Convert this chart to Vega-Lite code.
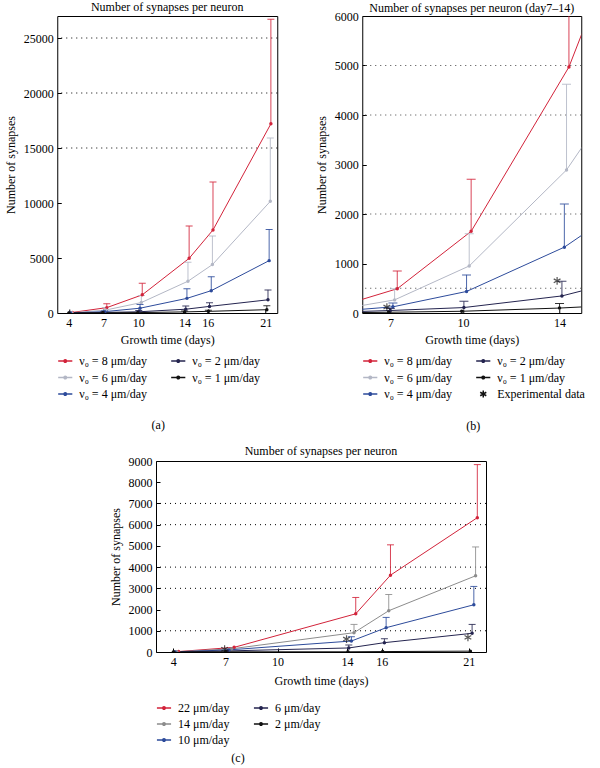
{
  "$schema": "https://vega.github.io/schema/vega-lite/v6.json",
  "padding": {"left": 3, "top": 0, "right": 0, "bottom": 0},
  "background": "white",
  "datasets": {
    "model": [
      {"s": "ν₀ = 8 μm/day", "d": 4.3, "v": 50},
      {"s": "ν₀ = 8 μm/day", "d": 7.28, "v": 490, "e": 850},
      {"s": "ν₀ = 8 μm/day", "d": 10.34, "v": 1650, "e": 2700},
      {"s": "ν₀ = 8 μm/day", "d": 14.39, "v": 4970, "e": 7900},
      {"s": "ν₀ = 8 μm/day", "d": 16.45, "v": 7550, "e": 11900},
      {"s": "ν₀ = 8 μm/day", "d": 21.45, "v": 17200, "e": 26700},
      {"s": "ν₀ = 6 μm/day", "d": 4.25, "v": 20},
      {"s": "ν₀ = 6 μm/day", "d": 7.17, "v": 265, "e": 490},
      {"s": "ν₀ = 6 μm/day", "d": 10.26, "v": 950, "e": 1600},
      {"s": "ν₀ = 6 μm/day", "d": 14.29, "v": 2890, "e": 4620},
      {"s": "ν₀ = 6 μm/day", "d": 16.4, "v": 4400, "e": 7000},
      {"s": "ν₀ = 6 μm/day", "d": 21.4, "v": 10150, "e": 15900},
      {"s": "ν₀ = 4 μm/day", "d": 4.15, "v": 10},
      {"s": "ν₀ = 4 μm/day", "d": 7.1, "v": 125, "e": 200},
      {"s": "ν₀ = 4 μm/day", "d": 10.15, "v": 435, "e": 770},
      {"s": "ν₀ = 4 μm/day", "d": 14.2, "v": 1330, "e": 2200},
      {"s": "ν₀ = 4 μm/day", "d": 16.3, "v": 2030, "e": 3300},
      {"s": "ν₀ = 4 μm/day", "d": 21.3, "v": 4760, "e": 7600},
      {"s": "ν₀ = 2 μm/day", "d": 4.05, "v": 5},
      {"s": "ν₀ = 2 μm/day", "d": 6.99, "v": 50, "e": 90},
      {"s": "ν₀ = 2 μm/day", "d": 10.04, "v": 110, "e": 235},
      {"s": "ν₀ = 2 μm/day", "d": 14.1, "v": 345, "e": 640},
      {"s": "ν₀ = 2 μm/day", "d": 16.15, "v": 600, "e": 930},
      {"s": "ν₀ = 2 μm/day", "d": 21.2, "v": 1200, "e": 2100},
      {"s": "ν₀ = 1 μm/day", "d": 4.0, "v": 0},
      {"s": "ν₀ = 1 μm/day", "d": 6.92, "v": 15},
      {"s": "ν₀ = 1 μm/day", "d": 9.95, "v": 35},
      {"s": "ν₀ = 1 μm/day", "d": 14.0, "v": 100, "e": 190},
      {"s": "ν₀ = 1 μm/day", "d": 16.05, "v": 150, "e": 260},
      {"s": "ν₀ = 1 μm/day", "d": 21.1, "v": 300, "e": 650}
    ],
    "modelc": [
      {"s": "22 μm/day", "d": 4.3, "v": 20},
      {"s": "22 μm/day", "d": 7.5, "v": 220},
      {"s": "22 μm/day", "d": 14.5, "v": 1800, "e": 2570},
      {"s": "22 μm/day", "d": 16.5, "v": 3620, "e": 5050},
      {"s": "22 μm/day", "d": 21.5, "v": 6330, "e": 8830},
      {"s": "14 μm/day", "d": 4.2, "v": 10},
      {"s": "14 μm/day", "d": 7.35, "v": 150},
      {"s": "14 μm/day", "d": 14.4, "v": 910, "e": 1300},
      {"s": "14 μm/day", "d": 16.4, "v": 1945, "e": 2710},
      {"s": "14 μm/day", "d": 21.4, "v": 3590, "e": 4950},
      {"s": "10 μm/day", "d": 4.1, "v": 5},
      {"s": "10 μm/day", "d": 7.2, "v": 100},
      {"s": "10 μm/day", "d": 14.25, "v": 517, "e": 720},
      {"s": "10 μm/day", "d": 16.25, "v": 1145, "e": 1630},
      {"s": "10 μm/day", "d": 21.3, "v": 2225, "e": 3090},
      {"s": "6 μm/day", "d": 4.05, "v": 0},
      {"s": "6 μm/day", "d": 7.1, "v": 50},
      {"s": "6 μm/day", "d": 14.1, "v": 190, "e": 330},
      {"s": "6 μm/day", "d": 16.15, "v": 440, "e": 625},
      {"s": "6 μm/day", "d": 21.2, "v": 880, "e": 1300},
      {"s": "2 μm/day", "d": 4.0, "v": 0},
      {"s": "2 μm/day", "d": 7.0, "v": 10},
      {"s": "2 μm/day", "d": 14.05, "v": 10},
      {"s": "2 μm/day", "d": 16.05, "v": 20},
      {"s": "2 μm/day", "d": 21.1, "v": 40}
    ],
    "expb": [{"d": 6.85, "v": 120}, {"d": 13.9, "v": 650}],
    "expc": [{"d": 6.95, "v": 130}, {"d": 13.97, "v": 610}, {"d": 20.96, "v": 690}],
    "grida": [{"g": 15000}, {"g": 20000}, {"g": 25000}],
    "gridb": [{"g": 500}, {"g": 2000}, {"g": 4000}, {"g": 5000}],
    "gridc": [{"g": 1000}, {"g": 3000}, {"g": 4000}, {"g": 6000}, {"g": 7000}]
  },
  "config": {
    "font": "'Liberation Serif', 'DejaVu Serif', serif",
    "view": {"stroke": "#000", "strokeWidth": 1},
    "title": {"fontSize": 12, "fontWeight": "normal", "color": "#000", "offset": 2, "frame": "group", "font": "'Liberation Serif', 'DejaVu Serif', serif"},
    "axis": {
      "labelFontSize": 12, "titleFontSize": 12, "titleFontWeight": "normal",
      "labelFont": "'Liberation Serif', 'DejaVu Serif', serif", "titleFont": "'Liberation Serif', 'DejaVu Serif', serif",
      "labelColor": "#000", "titleColor": "#000", "domain": false, "grid": false, "labelOverlap": false,
      "tickColor": "#000", "tickSize": -4, "labelPadding": 8, "format": "d", "tickCount": 20
    },
    "axisY": {"titlePadding": 6},
    "axisX": {"titlePadding": 6},
    "legend": {
      "orient": "bottom", "columns": 2, "symbolSize": 200, "symbolStrokeWidth": 1.5,
      "symbolType": "M-1,0L1,0M-0.18,0A0.18,0.18,0,1,0,0.18,0A0.18,0.18,0,1,0,-0.18,0",
      "labelFont": "'Liberation Serif', 'DejaVu Serif', serif", "titleFont": "'Liberation Serif', 'DejaVu Serif', serif",
      "labelFontSize": 12, "labelColor": "#000", "rowPadding": 2.5, "columnPadding": 20,
      "titleOrient": "bottom", "titleFontSize": 12, "titleFontWeight": "normal", "titleColor": "#000",
      "titleAnchor": "middle", "titlePadding": 20, "offset": 8, "labelOffset": 6
    }
  },
  "vconcat": [
    {
      "hconcat": [
        {
          "title": {"text": "Number of synapses per neuron", "offset": 2},
          "width": 220, "height": 297,
          "layer": [
            {"data": {"name": "grida"}, "mark": {"type": "rule", "strokeDash": [1, 4], "color": "#000", "strokeWidth": 1},
             "encoding": {"y": {"field": "g", "type": "quantitative", "axis": {"values": [0, 5000, 10000, 15000, 20000, 25000], "tickCount": 20, "title": "Number of synapses", "labelOverlap": false}}}},
            {"data": {"name": "model"}, "mark": {"type": "line", "strokeWidth": 1, "clip": true},
             "encoding": {
               "x": {"field": "d", "type": "quantitative", "scale": {"domain": [3, 22], "nice": false}, "axis": {"values": [4, 7, 10, 14, 16, 21], "tickCount": 20, "title": "Growth time (days)", "labelOverlap": false}},
               "y": {"field": "v", "type": "quantitative", "scale": {"domain": [0, 27000], "nice": false}, "axis": {"values": [0, 5000, 10000, 15000, 20000, 25000], "tickCount": 20, "title": "Number of synapses", "labelOverlap": false}},
               "color": {"field": "s", "type": "nominal",
                 "scale": {"domain": ["ν₀ = 8 μm/day", "ν₀ = 2 μm/day", "ν₀ = 6 μm/day", "ν₀ = 1 μm/day", "ν₀ = 4 μm/day"],
                           "range": ["#d2233a", "#24244f", "#b3b7c5", "#111111", "#2d4b9b"]},
                 "legend": {"title": "(a)", "symbolType": "M-1,0L1,0M-0.18,0A0.18,0.18,0,1,0,0.18,0A0.18,0.18,0,1,0,-0.18,0"}}
             }},
            {"data": {"name": "model"}, "transform": [{"filter": "isValid(datum.e)"}],
             "mark": {"type": "rule", "strokeWidth": 1, "clip": true, "opacity": 0.85},
             "encoding": {"x": {"field": "d", "type": "quantitative"}, "y": {"field": "v", "type": "quantitative"}, "y2": {"field": "e"}, "color": {"field": "s", "type": "nominal", "legend": null}}},
            {"data": {"name": "model"}, "transform": [{"filter": "isValid(datum.e)"}],
             "mark": {"type": "tick", "orient": "horizontal", "size": 7, "thickness": 1, "clip": true, "opacity": 0.85},
             "encoding": {"x": {"field": "d", "type": "quantitative"}, "y": {"field": "e", "type": "quantitative"}, "color": {"field": "s", "type": "nominal", "legend": null}}},
            {"data": {"name": "model"}, "mark": {"type": "point", "filled": true, "size": 12, "opacity": 1, "clip": true},
             "encoding": {"x": {"field": "d", "type": "quantitative"}, "y": {"field": "v", "type": "quantitative"}, "color": {"field": "s", "type": "nominal", "legend": null}}}
          ]
        },
        {
          "title": {"text": "Number of synapses per neuron (day7–14)", "offset": -5},
          "width": 219, "height": 297,
          "layer": [
            {"data": {"name": "gridb"}, "mark": {"type": "rule", "strokeDash": [1, 4], "color": "#444", "strokeWidth": 1},
             "encoding": {"y": {"field": "g", "type": "quantitative", "axis": {"values": [0, 1000, 2000, 3000, 4000, 5000, 6000], "tickCount": 20, "title": "Number of synapses", "labelOverlap": false}}}},
            {"data": {"name": "model"}, "mark": {"type": "line", "strokeWidth": 1, "clip": true},
             "encoding": {
               "x": {"field": "d", "type": "quantitative", "scale": {"domain": [5.83, 14.9], "nice": false}, "axis": {"values": [7, 10, 14], "tickCount": 20, "title": "Growth time (days)", "labelOverlap": false}},
               "y": {"field": "v", "type": "quantitative", "scale": {"domain": [0, 6000], "nice": false}, "axis": {"values": [0, 1000, 2000, 3000, 4000, 5000, 6000], "tickCount": 20, "title": "Number of synapses", "labelOverlap": false}},
               "color": {"field": "s", "type": "nominal",
                 "scale": {"domain": ["ν₀ = 8 μm/day", "ν₀ = 2 μm/day", "ν₀ = 6 μm/day", "ν₀ = 1 μm/day", "ν₀ = 4 μm/day", "Experimental data"],
                           "range": ["#d2233a", "#24244f", "#b3b7c5", "#111111", "#2d4b9b", "#111111"]},
                 "legend": {"title": "(b)", "symbolType": "M-1,0L1,0M-0.18,0A0.18,0.18,0,1,0,0.18,0A0.18,0.18,0,1,0,-0.18,0",
                   "encode": {"symbols": {"update": {"shape": {"signal": "datum.label === 'Experimental data' ? 'M0,-0.5L0,0.5M-0.43,-0.25L0.43,0.25M-0.43,0.25L0.43,-0.25' : 'M-1,0L1,0M-0.18,0A0.18,0.18,0,1,0,0.18,0A0.18,0.18,0,1,0,-0.18,0'"}}}}}}
             }},
            {"data": {"name": "model"}, "transform": [{"filter": "isValid(datum.e)"}],
             "mark": {"type": "rule", "strokeWidth": 1, "clip": true, "opacity": 0.85},
             "encoding": {"x": {"field": "d", "type": "quantitative"}, "y": {"field": "v", "type": "quantitative"}, "y2": {"field": "e"}, "color": {"field": "s", "type": "nominal", "legend": null}}},
            {"data": {"name": "model"}, "transform": [{"filter": "isValid(datum.e)"}],
             "mark": {"type": "tick", "orient": "horizontal", "size": 9, "thickness": 1, "clip": true, "opacity": 0.85},
             "encoding": {"x": {"field": "d", "type": "quantitative"}, "y": {"field": "e", "type": "quantitative"}, "color": {"field": "s", "type": "nominal", "legend": null}}},
            {"data": {"name": "model"}, "mark": {"type": "point", "filled": true, "size": 12, "opacity": 1, "clip": true},
             "encoding": {"x": {"field": "d", "type": "quantitative"}, "y": {"field": "v", "type": "quantitative"}, "color": {"field": "s", "type": "nominal", "legend": null}}},
            {"data": {"name": "expb"}, "mark": {"type": "point", "filled": false, "size": 60, "strokeWidth": 1.2, "color": "#111",
               "shape": "M0,-1L0,1M-0.87,-0.5L0.87,0.5M-0.87,0.5L0.87,-0.5", "clip": true},
             "encoding": {"x": {"field": "d", "type": "quantitative"}, "y": {"field": "v", "type": "quantitative"}}}
          ]
        }
      ],
      "spacing": 36,
      "resolve": {"scale": {"color": "independent", "x": "independent", "y": "independent"}, "legend": {"color": "independent"}}
    },
    {
      "title": {"text": "Number of synapses per neuron", "offset": -3},
      "width": 330, "height": 191,
      "layer": [
        {"data": {"name": "gridc"}, "mark": {"type": "rule", "strokeDash": [1, 4], "color": "#000", "strokeWidth": 1},
         "encoding": {"y": {"field": "g", "type": "quantitative", "axis": {"values": [0, 1000, 2000, 3000, 4000, 5000, 6000, 7000, 8000, 9000], "tickCount": 20, "title": "Number of synapses", "labelOverlap": false}}}},
        {"data": {"name": "modelc"}, "mark": {"type": "line", "strokeWidth": 1, "clip": true},
         "encoding": {
           "x": {"field": "d", "type": "quantitative", "scale": {"domain": [3, 22], "nice": false}, "axis": {"values": [4, 7, 10, 14, 16, 21], "tickCount": 20, "title": "Growth time (days)", "titlePadding": 8, "labelOverlap": false}},
           "y": {"field": "v", "type": "quantitative", "scale": {"domain": [0, 9000], "nice": false}, "axis": {"values": [0, 1000, 2000, 3000, 4000, 5000, 6000, 7000, 8000, 9000], "tickCount": 20, "title": "Number of synapses", "labelOverlap": false}},
           "color": {"field": "s", "type": "nominal",
             "scale": {"domain": ["22 μm/day", "6 μm/day", "14 μm/day", "2 μm/day", "10 μm/day"],
                       "range": ["#d2233a", "#24244f", "#8c8c8c", "#111111", "#2d4b9b"]},
             "legend": {"title": "(c)", "offset": 14, "titlePadding": 7, "rowPadding": 2, "symbolType": "M-1,0L1,0M-0.18,0A0.18,0.18,0,1,0,0.18,0A0.18,0.18,0,1,0,-0.18,0"}}
         }},
        {"data": {"name": "modelc"}, "transform": [{"filter": "isValid(datum.e)"}],
         "mark": {"type": "rule", "strokeWidth": 1, "clip": true, "opacity": 0.85},
         "encoding": {"x": {"field": "d", "type": "quantitative"}, "y": {"field": "v", "type": "quantitative"}, "y2": {"field": "e"}, "color": {"field": "s", "type": "nominal", "legend": null}}},
        {"data": {"name": "modelc"}, "transform": [{"filter": "isValid(datum.e)"}],
         "mark": {"type": "tick", "orient": "horizontal", "size": 7, "thickness": 1, "clip": true, "opacity": 0.85},
         "encoding": {"x": {"field": "d", "type": "quantitative"}, "y": {"field": "e", "type": "quantitative"}, "color": {"field": "s", "type": "nominal", "legend": null}}},
        {"data": {"name": "modelc"}, "mark": {"type": "point", "filled": true, "size": 12, "opacity": 1, "clip": true},
         "encoding": {"x": {"field": "d", "type": "quantitative"}, "y": {"field": "v", "type": "quantitative"}, "color": {"field": "s", "type": "nominal", "legend": null}}},
        {"data": {"name": "expc"}, "mark": {"type": "point", "filled": false, "size": 60, "strokeWidth": 1.2, "color": "#111",
           "shape": "M0,-1L0,1M-0.87,-0.5L0.87,0.5M-0.87,0.5L0.87,-0.5", "clip": true},
         "encoding": {"x": {"field": "d", "type": "quantitative"}, "y": {"field": "v", "type": "quantitative"}}}
      ]
    }
  ],
  "spacing": 11,
  "center": true,
  "resolve": {"scale": {"color": "independent", "x": "independent", "y": "independent"}, "legend": {"color": "independent"}}
}
